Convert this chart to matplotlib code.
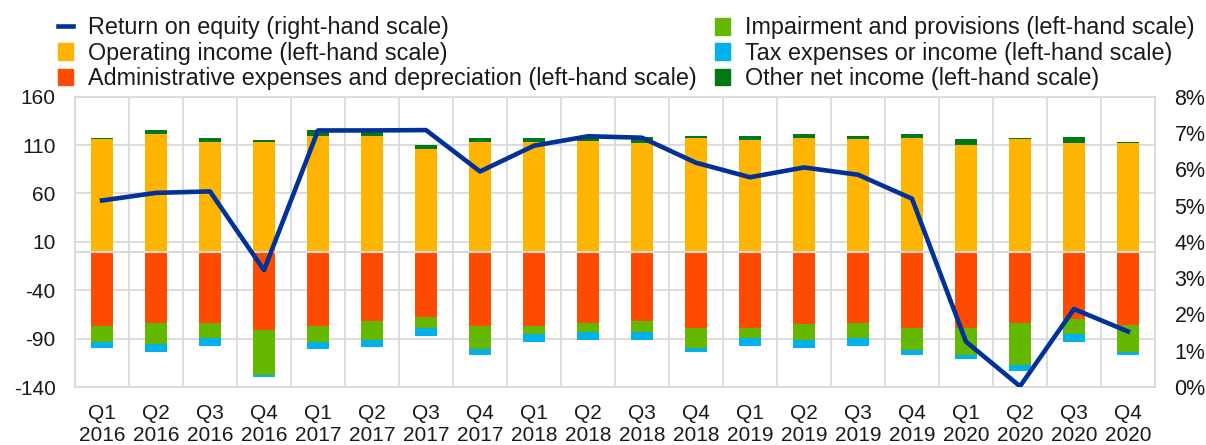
import matplotlib
matplotlib.use("Agg")
import matplotlib.pyplot as plt
import numpy as np
from matplotlib.patches import Patch
from matplotlib.lines import Line2D

plt.rcParams['font.family'] = ['Liberation Sans', 'DejaVu Sans']
plt.rcParams['axes.unicode_minus'] = False

quarters = ["Q1", "Q2", "Q3", "Q4"] * 5
years = [str(y) for y in (2016, 2017, 2018, 2019, 2020) for _ in range(4)]
labels = [f"{q}\n{y}" for q, y in zip(quarters, years)]

operating_income = [116, 121, 113.6, 113.6, 119.5, 119.5, 105.7, 113.6, 113.6, 114.3,
                    111.9, 117.7, 115.7, 117.7, 116, 117.7, 109.9, 116, 111.9, 111.9]
other_net_income = [1.5, 4.8, 4, 2, 6, 4, 4, 4, 4, 2.7,
                    6, 2, 4, 4, 3.8, 4, 6, 1.7, 6, 1.7]
admin_expenses = [-77.2, -73.5, -73.5, -81.4, -77.2, -71.4, -67.3, -77.2, -77.2, -73.5,
                  -71.4, -79.3, -79.3, -75.2, -73.5, -79.3, -79.3, -73.5, -69.3, -75.5]
impairment = [-16, -22, -16, -46, -16, -20, -12, -24, -8, -9.6,
              -11.7, -20, -10, -16, -16, -22, -28, -44, -16, -28]
tax = [-6, -8, -8, -2, -8, -7.5, -8, -6, -8, -8,
       -8, -4, -8, -8, -8, -6, -4, -6, -8, -3.7]
roe = [5.14, 5.35, 5.39, 3.22, 7.07, 7.07, 7.08, 5.94, 6.65, 6.91,
       6.87, 6.18, 5.78, 6.05, 5.85, 5.19, 1.25, 0.02, 2.15, 1.53]

c_line = "#003299"
c_op = "#FFB400"
c_admin = "#FF4B00"
c_imp = "#65B800"
c_tax = "#00B1EA"
c_other = "#007816"
grid_c = "#D9D9D9"
txt_c = "#1a1a1a"

fig = plt.figure(figsize=(12.06, 4.45), dpi=100)
ax = fig.add_axes([0.0622, 0.1303, 0.8955, 0.6524])
x = np.arange(len(labels))
w = 0.4

op = np.array(operating_income)
oth = np.array(other_net_income)
adm = np.array(admin_expenses)
imp = np.array(impairment)
tx = np.array(tax)

ax.bar(x, op, w, color=c_op, zorder=2)
ax.bar(x, oth, w, bottom=op, color=c_other, zorder=2)
ax.bar(x, adm, w, color=c_admin, zorder=2)
ax.bar(x, imp, w, bottom=adm, color=c_imp, zorder=2)
ax.bar(x, tx, w, bottom=adm + imp, color=c_tax, zorder=2)
ax.axhline(0, color=grid_c, lw=1.5, zorder=3)

ax.set_xlim(-0.5, len(labels) - 0.5)
ax.set_ylim(-140, 160)
ax.set_yticks([160, 110, 60, 10, -40, -90, -140])
ax.set_xticks(x)
ax.set_xticklabels(labels, fontsize=15, linespacing=1.2)
ax.tick_params(axis='both', length=0, labelsize=15, colors=txt_c)
ax.tick_params(axis='x', pad=12)
ax.tick_params(axis='y', pad=14)
for v in [160, 110, 60, 10, -40, -90, -140]:
    ax.axhline(v, color=grid_c, lw=1.3, zorder=1)
for b in np.arange(-0.5, len(labels), 1.0):
    ax.axvline(b, color=grid_c, lw=1.3, zorder=1)
for s in ax.spines.values():
    s.set_color(grid_c)
    s.set_linewidth(1.3)

ax2 = ax.twinx()
ax2.plot(x, roe, color=c_line, lw=3.3, zorder=5)
ax2.set_ylim(0, 8)
ax2.set_yticks(range(0, 9))
ax2.set_yticklabels([f"{v}%" for v in range(0, 9)])
ax2.tick_params(axis='y', length=0, labelsize=15.5, colors=txt_c, pad=14)
for s in ax2.spines.values():
    s.set_visible(False)

h1 = [Line2D([0], [0], color=c_line, lw=3.3),
      Patch(color=c_op), Patch(color=c_admin)]
l1 = ["Return on equity (right-hand scale)",
      "Operating income (left-hand scale)",
      "Administrative expenses and depreciation (left-hand scale)"]
h2 = [Patch(color=c_imp), Patch(color=c_tax), Patch(color=c_other)]
l2 = ["Impairment and provisions (left-hand scale)",
      "Tax expenses or income (left-hand scale)",
      "Other net income (left-hand scale)"]
leg_kw = dict(frameon=False, fontsize=16.8, handlelength=0.65, handleheight=0.73,
              handletextpad=0.65, labelspacing=0.1, borderaxespad=0, borderpad=0,
              labelcolor=txt_c)
fig.legend(h1, l1, loc='upper left', bbox_to_anchor=(0.0481, 0.963), **leg_kw)
fig.legend(h2, l2, loc='upper left', bbox_to_anchor=(0.5929, 0.963), **leg_kw)

fig.savefig("out.png", dpi=100)
